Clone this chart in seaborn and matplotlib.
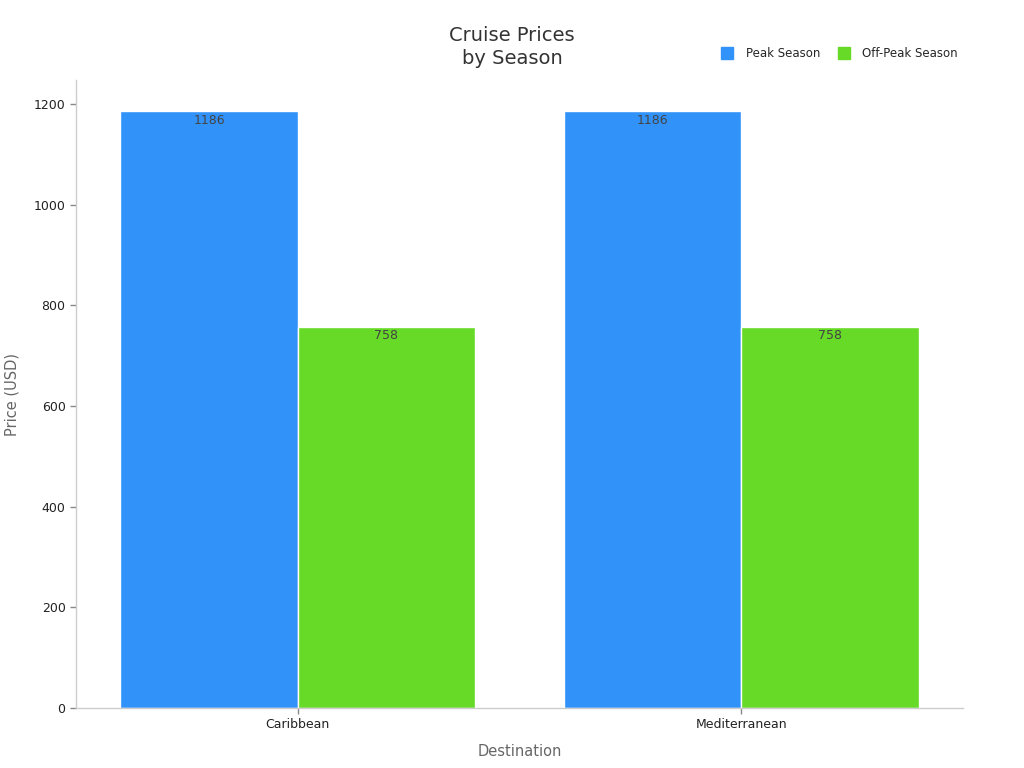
import matplotlib
matplotlib.use("Agg")
import matplotlib.pyplot as plt
import seaborn as sns
import pandas as pd
from matplotlib.lines import Line2D

destinations = ["Caribbean", "Mediterranean"]
seasons = ["Peak Season", "Off-Peak Season"]
peak_prices = [1186, 1186]
offpeak_prices = [758, 758]
colors = ["#3192F9", "#66DA26"]

df = pd.DataFrame({
    "Destination": destinations * 2,
    "Season": [seasons[0]] * 2 + [seasons[1]] * 2,
    "Price": peak_prices + offpeak_prices,
})

sns.set_theme(style="white")
plt.rcParams["font.family"] = ["DejaVu Sans"]

fig = plt.figure(figsize=(10.24, 7.68), dpi=100)
ax = fig.add_axes([0.0742, 0.0781, 0.8662, 0.8177])

sns.barplot(data=df, x="Destination", y="Price", hue="Season",
            palette=colors, hue_order=seasons, order=destinations,
            width=0.8, saturation=1, edgecolor="white", linewidth=1,
            ax=ax, legend=False)

for cont in ax.containers:
    ax.bar_label(cont, labels=[f"{v:.0f}" for v in cont.datavalues],
                 label_type="edge", padding=-11, fontsize=9, color="#444444")

ax.set_xlim(-0.5, 1.5)
ax.set_ylim(0, 1248)
ax.set_yticks([0, 200, 400, 600, 800, 1000, 1200])
ax.tick_params(axis="both", bottom=True, left=True, labelsize=9,
               labelcolor="#222222", color="#888888", length=4, width=1)
for s in ["top", "right"]:
    ax.spines[s].set_visible(False)
for s in ["left", "bottom"]:
    ax.spines[s].set_color("#cccccc")
    ax.spines[s].set_linewidth(1)

ax.set_xlabel("Destination", fontsize=10.5, color="#666666", labelpad=9)
ax.set_ylabel("Price (USD)", fontsize=10.5, color="#666666", labelpad=10)

fig.text(0.5, 0.911, "Cruise Prices\nby Season", ha="center", va="bottom",
         fontsize=14, color="#333333", linespacing=1.3)

handles = [Line2D([0], [0], marker="s", linestyle="none", markersize=8,
                  markerfacecolor=c, markeredgecolor=c) for c in colors]
fig.legend(handles, seasons, loc="center right", bbox_to_anchor=(0.946, 0.930),
           ncol=2, frameon=False, fontsize=8.5, handletextpad=1.1,
           columnspacing=1.5, handlelength=1.0)

fig.savefig("out.png", dpi=100)
